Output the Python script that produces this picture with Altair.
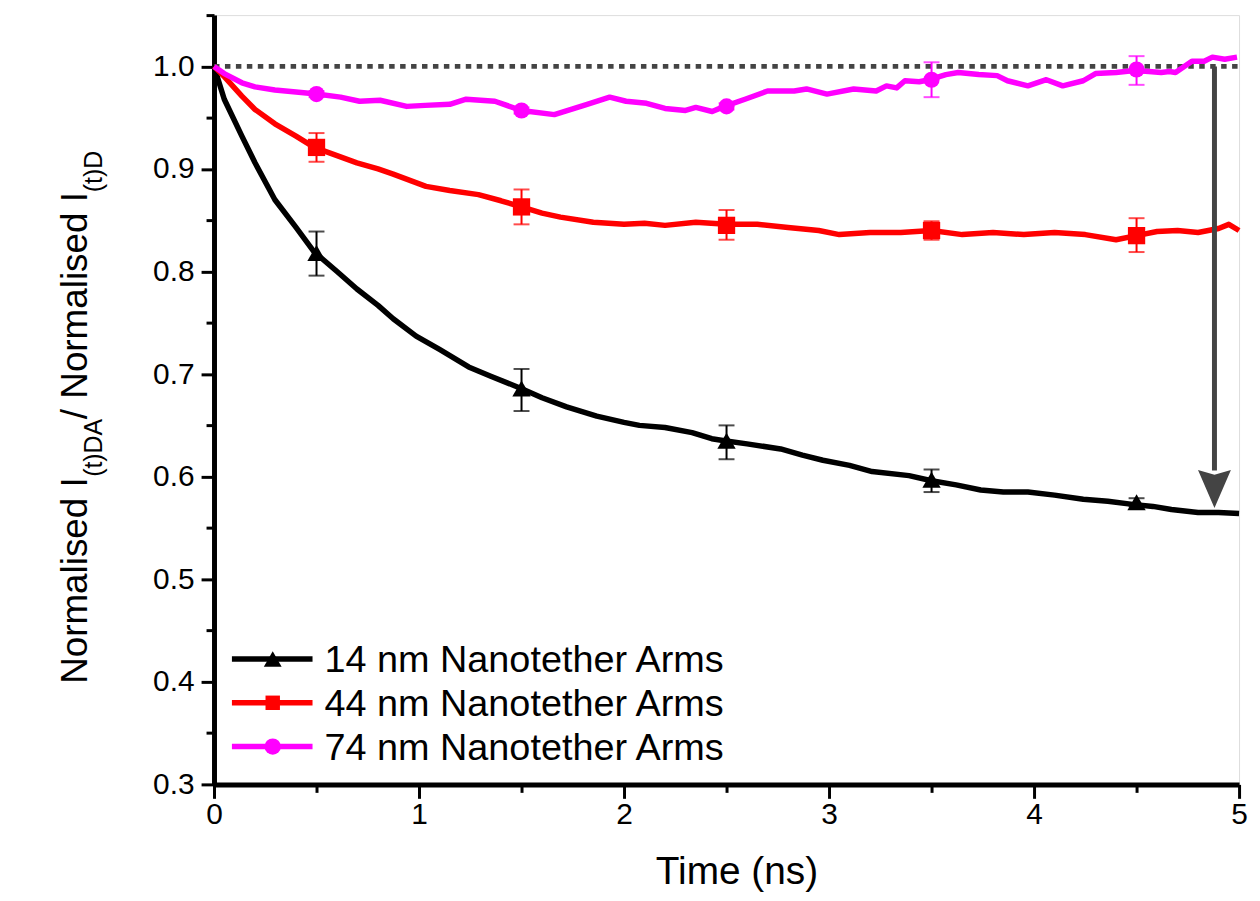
import altair as alt
import pandas as pd

FONT = "Liberation Sans"

series_names = ["14 nm Nanotether Arms", "44 nm Nanotether Arms", "74 nm Nanotether Arms"]
series_colors = ["#000000", "#ff0000", "#ff00ff"]
series_shapes = ["triangle-up", "square", "circle"]
marker_sizes = [340, 264, 330]

# 14 nm decay curve
black_t = [0, 0.05, 0.136, 0.2, 0.297, 0.4, 0.489, 0.6, 0.697, 0.8, 0.874, 0.986, 1.1, 1.242, 1.35,
           1.498, 1.6, 1.72, 1.867, 2.0, 2.075, 2.2, 2.332, 2.428, 2.49, 2.6, 2.764, 2.87, 2.97, 3.1,
           3.21, 3.39, 3.5, 3.62, 3.74, 3.85, 3.97, 4.1, 4.24, 4.36, 4.48, 4.58, 4.67, 4.8, 4.9, 5.0]
black_v = [1.0, 0.968, 0.932, 0.906, 0.870, 0.843, 0.819, 0.800, 0.783, 0.767, 0.754, 0.737, 0.724, 0.707, 0.698,
           0.686, 0.677, 0.668, 0.659, 0.653, 0.650, 0.648, 0.643, 0.637, 0.635, 0.632, 0.627, 0.621, 0.616, 0.611,
           0.605, 0.601, 0.596, 0.592, 0.587, 0.585, 0.585, 0.582, 0.578, 0.576, 0.573, 0.571, 0.568, 0.565, 0.565, 0.564]

# 44 nm decay curve
red_t = [0, 0.05, 0.136, 0.2, 0.297, 0.4, 0.489, 0.6, 0.697, 0.8, 0.874, 1.034, 1.15, 1.29, 1.4, 1.5, 1.6,
         1.69, 1.85, 2.0, 2.1, 2.2, 2.35, 2.5, 2.65, 2.8, 2.95, 3.05, 3.2, 3.35, 3.5, 3.65, 3.8, 3.95, 4.1,
         4.25, 4.4, 4.5, 4.6, 4.7, 4.8, 4.9, 4.95, 5.0]
red_v = [1.0, 0.990, 0.971, 0.958, 0.944, 0.932, 0.921, 0.913, 0.906, 0.900, 0.895, 0.883, 0.879, 0.875, 0.869,
         0.863, 0.857, 0.853, 0.848, 0.846, 0.847, 0.845, 0.848, 0.846, 0.846, 0.843, 0.840, 0.836, 0.838, 0.838,
         0.840, 0.836, 0.838, 0.836, 0.838, 0.836, 0.831, 0.835, 0.839, 0.840, 0.838, 0.842, 0.846, 0.840]

# 74 nm curve
mag_t = [0, 0.05, 0.136, 0.2, 0.297, 0.4, 0.5, 0.617, 0.71, 0.81, 0.94, 1.03, 1.15, 1.23, 1.37, 1.5, 1.66,
         1.82, 1.93, 2.01, 2.11, 2.2, 2.3, 2.35, 2.43, 2.49, 2.59, 2.7, 2.83, 2.89, 2.99, 3.12, 3.23, 3.28,
         3.33, 3.37, 3.44, 3.49, 3.57, 3.63, 3.73, 3.82, 3.87, 3.97, 4.06, 4.14, 4.24, 4.3, 4.4, 4.49, 4.56,
         4.62, 4.66, 4.69, 4.77, 4.83, 4.87, 4.93, 4.99]
mag_v = [1.0, 0.993, 0.984, 0.980, 0.977, 0.975, 0.973, 0.970, 0.966, 0.967, 0.961, 0.962, 0.963, 0.968, 0.966,
         0.957, 0.953, 0.963, 0.970, 0.966, 0.964, 0.959, 0.957, 0.960, 0.956, 0.961, 0.968, 0.976, 0.976, 0.978,
         0.973, 0.978, 0.976, 0.981, 0.979, 0.986, 0.985, 0.987, 0.992, 0.994, 0.992, 0.991, 0.986, 0.981, 0.987,
         0.981, 0.986, 0.993, 0.994, 0.996, 0.995, 0.994, 0.995, 0.994, 1.005, 1.005, 1.009, 1.007, 1.009]

# markers with error bars
marker_t = [0.5, 1.5, 2.5, 3.5, 4.5]
black_m = [0.818, 0.686, 0.635, 0.597, 0.575]
black_lo = [0.796, 0.664, 0.617, 0.585, 0.571]
black_hi = [0.839, 0.705, 0.650, 0.607, 0.579]
red_m = [0.921, 0.863, 0.845, 0.840, 0.835]
red_lo = [0.907, 0.846, 0.831, 0.831, 0.819]
red_hi = [0.935, 0.880, 0.860, 0.849, 0.852]
mag_m = [0.973, 0.957, 0.961, 0.987, 0.997]
mag_lo = [0.970, 0.954, 0.958, 0.970, 0.982]
mag_hi = [0.976, 0.960, 0.964, 1.004, 1.010]

# reference line and arrow annotation
ref_x = [0, 5]
ref_y = [1.0, 1.0]
arrow_t = [4.88]
arrow_top = [1.0]
arrow_base = [0.606]
arrow_head_mid = [0.588]

x_ticks = [0, 0.5, 1, 1.5, 2, 2.5, 3, 3.5, 4, 4.5, 5]
y_ticks = [0.3, 0.35, 0.4, 0.45, 0.5, 0.55, 0.6, 0.65, 0.7, 0.75, 0.8, 0.85, 0.9, 0.95, 1.0, 1.05]

# ---------------------------------------------------------------- data tables
curves = pd.concat([
    pd.DataFrame({"t": black_t, "v": black_v, "s": series_names[0]}),
    pd.DataFrame({"t": red_t, "v": red_v, "s": series_names[1]}),
    pd.DataFrame({"t": mag_t, "v": mag_v, "s": series_names[2]}),
], ignore_index=True)

marks = pd.concat([
    pd.DataFrame({"t": marker_t, "v": black_m, "lo": black_lo, "hi": black_hi, "s": series_names[0]}),
    pd.DataFrame({"t": marker_t, "v": red_m, "lo": red_lo, "hi": red_hi, "s": series_names[1]}),
    pd.DataFrame({"t": marker_t, "v": mag_m, "lo": mag_lo, "hi": mag_hi, "s": series_names[2]}),
], ignore_index=True)

xs = alt.Scale(domain=[0, 5], nice=False, zero=False)
ys = alt.Scale(domain=[0.3, 1.05], nice=False, zero=False)
cs = alt.Scale(domain=series_names, range=series_colors)
ss = alt.Scale(domain=series_names, range=series_shapes)
zs = alt.Scale(domain=series_names, range=marker_sizes)

x_axis = alt.Axis(
    values=x_ticks, grid=False,
    labelExpr="datum.value % 1 == 0 ? format(datum.value, 'd') : ''",
    tickSize={"condition": {"test": "datum.value % 1 == 0", "value": 14}, "value": 8},
    tickWidth=3, tickColor="black", domainColor="black", domainWidth=5,
    labelFont=FONT, labelFontSize=30, labelColor="black", labelPadding=1,
    labelFlush=False, labelOverlap=False,
    title="Time (ns)", titleFont=FONT, titleFontSize=39, titleFontWeight="normal",
    titleColor="black", titleBaseline="alphabetic", titleY=100, titleX=525,
)
y_axis = alt.Axis(
    values=y_ticks, grid=False,
    labelExpr="(round(datum.value * 100) % 10 == 0) ? format(datum.value, '.1f') : ''",
    tickSize={"condition": {"test": "round(datum.value * 100) % 10 == 0", "value": 13}, "value": 8},
    tickWidth=3, tickColor="black", domainColor="black", domainWidth=5,
    labelFont=FONT, labelFontSize=30, labelColor="black", labelPadding=7,
    labelFlush=False, labelOverlap=False, title=None,
)

ref_line = alt.Chart(pd.DataFrame({"t": ref_x, "v": ref_y})).mark_line(
    color="#444444", strokeWidth=5, strokeDash=[5.5, 5.5]
).encode(x=alt.X("t:Q", scale=xs, axis=x_axis), y=alt.Y("v:Q", scale=ys, axis=y_axis))

lines = alt.Chart(curves).mark_line(strokeWidth=5.5, strokeJoin="round").encode(
    x=alt.X("t:Q", scale=xs), y=alt.Y("v:Q", scale=ys),
    color=alt.Color("s:N", scale=cs, legend=None), detail="s:N",
)

ebars = alt.Chart(marks).mark_errorbar(ticks=True, size=16, thickness=2).encode(
    x=alt.X("t:Q", scale=xs), y=alt.Y("lo:Q", scale=ys, title=None), y2="hi:Q",
    color=alt.Color("s:N", scale=cs, legend=None),
)

points = alt.Chart(marks).mark_point(filled=True, opacity=1).encode(
    x=alt.X("t:Q", scale=xs), y=alt.Y("v:Q", scale=ys),
    color=alt.Color("s:N", scale=cs, legend=None),
    shape=alt.Shape("s:N", scale=ss, legend=None),
    size=alt.Size("s:N", scale=zs, legend=None),
)

arrow_df = pd.DataFrame({"t": arrow_t, "top": arrow_top, "base": arrow_base, "mid": arrow_head_mid})
arrow_shaft = alt.Chart(arrow_df).mark_rule(color="#444444", strokeWidth=5).encode(
    x=alt.X("t:Q", scale=xs), y=alt.Y("top:Q", scale=ys), y2="base:Q"
)
arrow_head = alt.Chart(arrow_df).mark_point(
    shape="M-0.87,-1 L0,-0.75 L0.87,-1 L0,1 Z", filled=True, opacity=1,
    color="#444444", size=1444, strokeWidth=0,
).encode(x=alt.X("t:Q", scale=xs), y=alt.Y("mid:Q", scale=ys))

# ---------------------------------------------------------------- legend
legend_layers = []
legend_rows_y = [647, 691, 735]
for i, name in enumerate(series_names):
    ldf = pd.DataFrame({"s": [name]})
    ly = legend_rows_y[i]
    legend_layers.append(alt.Chart(ldf).mark_rule(color=series_colors[i], strokeWidth=5.5).encode(
        x=alt.value(18), x2=alt.value(99), y=alt.value(ly)))
    legend_layers.append(alt.Chart(ldf).mark_point(
        shape=series_shapes[i], filled=True, opacity=1, color=series_colors[i],
        size=[320, 210, 270][i]).encode(x=alt.value(59), y=alt.value(ly)))
    legend_layers.append(alt.Chart(ldf).mark_text(
        align="left", baseline="alphabetic", font=FONT, fontSize=38, color="black").encode(
        x=alt.value(111), y=alt.value(ly + 13), text="s:N"))

# ---------------------------------------------------------------- y-axis title with subscripts
title_parts = ["Normalised I", "(t)DA", "/ Normalised I", "(t)D"]
title_sizes = [37, 25, 37, 25]
title_x = [-128, -113, -128, -113]
title_y = [672, 464, 406, 178]
title_layers = []
for txt, fs, tx, ty in zip(title_parts, title_sizes, title_x, title_y):
    title_layers.append(alt.Chart(pd.DataFrame({"txt": [txt]})).mark_text(
        align="left", baseline="alphabetic", angle=270, font=FONT, fontSize=fs, color="black").encode(
        x=alt.value(tx), y=alt.value(ty), text="txt:N"))

chart = alt.layer(
    ref_line, lines, ebars, points, arrow_shaft, arrow_head, *legend_layers, *title_layers
).properties(
    width=1030, height=773,
    autosize=alt.AutoSizeParams(type="none"),
    padding={"left": 207, "top": 5, "right": 13, "bottom": 107},
).configure_view(stroke=None).configure(background="white")

chart.save("out.html", embed_options={"renderer": "svg", "actions": False})
